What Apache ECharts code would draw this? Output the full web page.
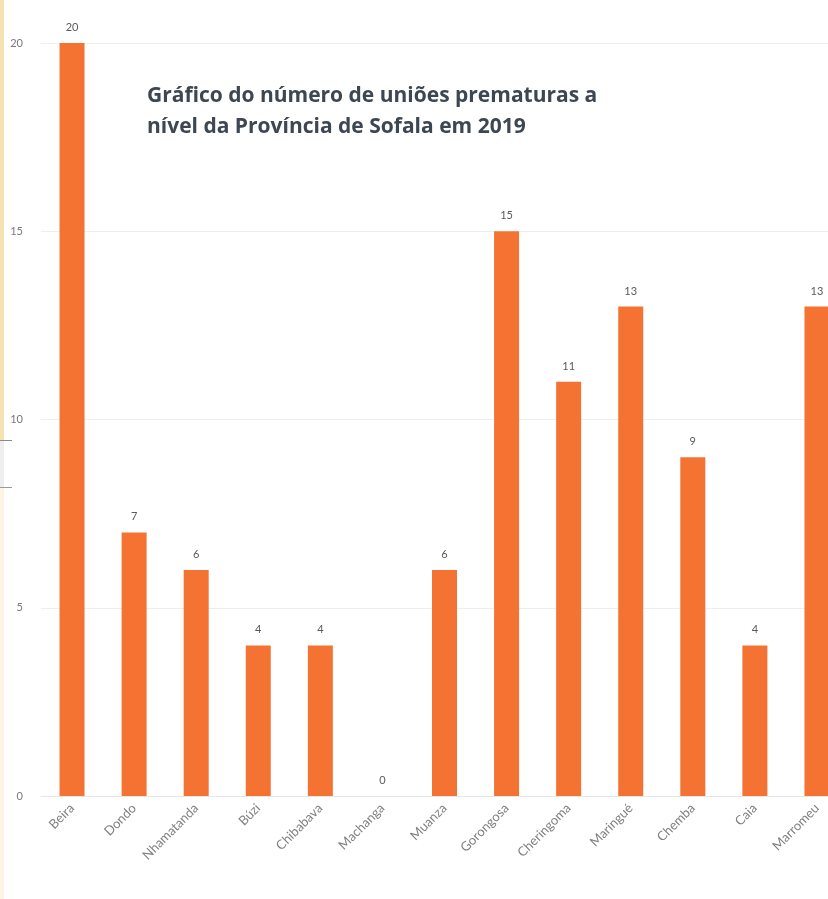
<!DOCTYPE html>
<html>
<head>
<meta charset="utf-8">
<script src="https://cdn.jsdelivr.net/npm/echarts@6/dist/echarts.min.js"></script>
<style>
    html, body { margin: 0; padding: 0; background: #ffffff; }
    #chart { width: 828px; height: 899px; }
</style>
</head>
<body>
<div id="chart"></div>
<script>
    // distritos e número de uniões prematuras
    var distritos = ['Beira', 'Dondo', 'Nhamatanda', 'Búzi', 'Chibabava', 'Machanga', 'Muanza',
        'Gorongosa', 'Cheringoma', 'Maringué', 'Chemba', 'Caia', 'Marromeu'];
    var unioes = [20, 7, 6, 4, 4, 0, 6, 15, 11, 13, 9, 4, 13];
    var titulo = ['Gráfico do número de uniões prematuras a', 'nível da Província de Sofala em 2019'];

    var chart = echarts.init(document.getElementById('chart'));

    chart.setOption({
        animation: false,
        backgroundColor: '#ffffff',
        grid: {
            left: 41,
            top: 43,
            width: 807,
            height: 753,
            containLabel: false,
            outerBoundsMode: 'none'
        },
        xAxis: {
            type: 'category',
            data: distritos,
            axisLine: {show: true, lineStyle: {color: '#e6e6e6'}},
            axisTick: {show: false},
            axisLabel: {
                interval: 0,
                rotate: 45,
                margin: 10,
                color: '#808080',
                fontFamily: 'Lato',
                fontSize: 13
            }
        },
        yAxis: {
            type: 'value',
            min: 0,
            max: 20,
            interval: 5,
            axisLine: {show: false},
            axisTick: {show: false},
            splitLine: {lineStyle: {color: '#eeeeee'}},
            axisLabel: {
                margin: 18,
                color: '#7a7a7a',
                fontFamily: 'Lato',
                fontSize: 11
            }
        },
        series: [{
            type: 'bar',
            data: unioes,
            barWidth: 25,
            itemStyle: {color: '#f47332'},
            label: {
                show: true,
                position: 'top',
                distance: 10,
                color: '#5a5a5a',
                fontFamily: 'Lato',
                fontSize: 11
            }
        }],
        graphic: [
            // faixa da esquerda
            {type: 'rect', left: 0, top: 0, shape: {width: 4, height: 441}, style: {fill: '#f6e2b0'}},
            {type: 'rect', left: 0, top: 441, shape: {width: 4, height: 47}, style: {fill: '#eeeeee'}},
            {type: 'rect', left: 0, top: 488, shape: {width: 4, height: 411}, style: {fill: '#fdf4e4'}},
            {type: 'rect', left: 0, top: 440, shape: {width: 12, height: 1}, style: {fill: '#8a8a8a'}},
            {type: 'rect', left: 0, top: 487, shape: {width: 12, height: 1}, style: {fill: '#9a9a9a'}},
            {
                type: 'text',
                left: 147,
                top: 81,
                style: {
                    text: titulo.join('\n'),
                    fill: '#3d4752',
                    fontFamily: 'Open Sans',
                    fontWeight: 'bold',
                    fontSize: 21,
                    lineHeight: 31
                }
            }
        ]
    });
</script>
</body>
</html>
